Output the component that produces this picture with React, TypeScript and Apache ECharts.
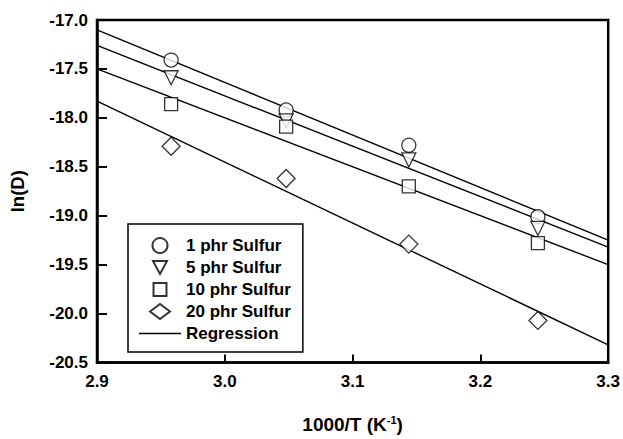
import React, { useEffect, useRef } from "react";
import * as echarts from "echarts";

// Inverse temperature, 1000/T (K^-1)
const invTemp = [2.958, 3.048, 3.144, 3.245];

// ln(D) for each sulfur loading
const sulfur1 = [-17.41, -17.92, -18.28, -19.01];
const sulfur5 = [-17.59, -18.03, -18.43, -19.13];
const sulfur10 = [-17.86, -18.09, -18.70, -19.28];
const sulfur20 = [-18.29, -18.62, -19.29, -20.07];

// Regression line end values at x = 2.9 and x = 3.3
const fitX = [2.9, 3.3];
const fit1 = [-17.1, -19.25];
const fit5 = [-17.26, -19.32];
const fit10 = [-17.5, -19.5];
const fit20 = [-17.83, -20.32];

const seriesNames = ["1 phr Sulfur", "5 phr Sulfur", "10 phr Sulfur", "20 phr Sulfur"];

const FONT = "Liberation Sans, Arial, sans-serif";

// Legend icons drawn as paths so they keep their proportions inside the wide legend slot
const ICON_TRIANGLE = "path://M7,-1M0,0L14,0L7,13ZM7,14";
const ICON_SQUARE = "path://M6.5,-1M0,0L13,0L13,13L0,13ZM6.5,14";
const ICON_DIAMOND = "path://M0,7.5L10,0L20,7.5L10,15Z";
const ICON_LINE = "path://M0,0L39,0L39,1.5L0,1.5Z";

export default function App() {
  const ref = useRef<HTMLDivElement>(null);

  useEffect(() => {
    document.body.style.margin = "0";
    if (!ref.current) return;
    const chart = echarts.init(ref.current, null, { renderer: "svg" });

    const pts = (ys: number[]) => invTemp.map((x, i) => [x, ys[i]]);
    const fit = (ys: number[]) => fitX.map((x, i) => [x, ys[i]]);

    const markerStyle = { color: "#fff", borderColor: "#000", borderWidth: 1.3 };

    const scatter = (name: string, ys: number[], symbol: string, size: number, rotate = 0) => ({
      type: "scatter",
      name,
      data: pts(ys),
      symbol,
      symbolSize: size,
      symbolRotate: rotate,
      itemStyle: markerStyle,
      z: 5,
    });

    const line = (ys: number[]) => ({
      type: "line",
      name: "Regression",
      data: fit(ys),
      symbol: "none",
      lineStyle: { color: "#000", width: 1.4 },
      itemStyle: { color: "#000" },
      z: 2,
    });

    chart.setOption({
      animation: false,
      backgroundColor: "#fff",
      textStyle: { fontFamily: FONT },
      grid: {
        left: 96,
        right: 14,
        top: 20,
        bottom: 65,
        show: true,
        borderColor: "#000",
        borderWidth: 2.5,
        backgroundColor: "transparent",
      },
      legend: {
        orient: "vertical",
        left: 128,
        top: 224,
        data: [
          { name: seriesNames[0] },
          { name: seriesNames[1], icon: ICON_TRIANGLE },
          { name: seriesNames[2], icon: ICON_SQUARE },
          { name: seriesNames[3], icon: ICON_DIAMOND },
          { name: "Regression", icon: ICON_LINE },
        ],
        itemWidth: 42,
        itemHeight: 15,
        itemGap: 5,
        padding: [13, 12, 10, 11],
        borderColor: "#000",
        borderWidth: 1.5,
        backgroundColor: "#fff",
        textStyle: { fontFamily: FONT, fontWeight: "bold", fontSize: 17, color: "#000" },
      },
      xAxis: {
        type: "value",
        min: 2.9,
        max: 3.3,
        interval: 0.1,
        name: "{a|1000/T (K}{s|-1}{a|)}",
        nameLocation: "middle",
        nameGap: 52,
        nameTextStyle: {
          rich: {
            a: { fontFamily: FONT, fontWeight: "bold", fontSize: 19, color: "#000" },
            s: { fontFamily: FONT, fontWeight: "bold", fontSize: 11, color: "#000", padding: [0, 0, 9, 0] },
          },
        },
        splitLine: { show: false },
        axisLine: { show: true, lineStyle: { color: "#000", width: 2.5 } },
        axisTick: { inside: true, length: 8, lineStyle: { color: "#000", width: 2 } },
        axisLabel: {
          margin: 10,
          fontFamily: FONT,
          fontWeight: "bold",
          fontSize: 17,
          color: "#000",
          formatter: (v: number) => v.toFixed(1),
        },
      },
      yAxis: {
        type: "value",
        min: -20.5,
        max: -17,
        interval: 0.5,
        name: "ln(D)",
        nameLocation: "middle",
        nameRotate: 90,
        nameGap: 70,
        nameTextStyle: { fontFamily: FONT, fontWeight: "bold", fontSize: 18.5, color: "#000" },
        splitLine: { show: false },
        axisLine: { show: true, lineStyle: { color: "#000", width: 2.5 } },
        axisTick: { inside: true, length: 10, lineStyle: { color: "#000", width: 2 } },
        axisLabel: {
          margin: 9,
          fontFamily: FONT,
          fontWeight: "bold",
          fontSize: 17,
          color: "#000",
          formatter: (v: number) => v.toFixed(1),
        },
      },
      series: [
        line(fit1),
        line(fit5),
        line(fit10),
        line(fit20),
        scatter(seriesNames[0], sulfur1, "circle", 14),
        scatter(seriesNames[1], sulfur5, "triangle", 14, 180),
        scatter(seriesNames[2], sulfur10, "rect", 13),
        scatter(seriesNames[3], sulfur20, "diamond", 18),
      ],
    });

    return () => chart.dispose();
  }, []);

  return <div ref={ref} style={{ width: 623, height: 439 }} />;
}
